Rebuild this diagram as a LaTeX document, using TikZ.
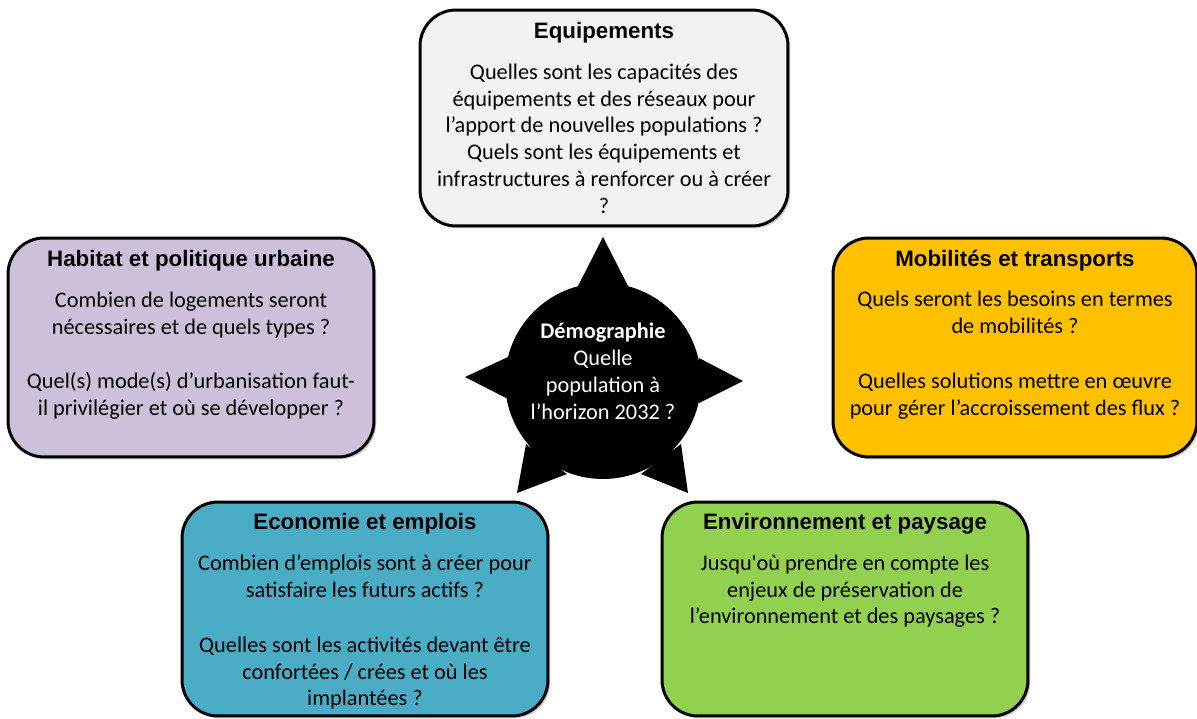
\documentclass[tikz,border=0pt]{standalone}
\usepackage{fontspec}
\setmainfont{Carlito}
\newfontfamily\headfont{Liberation Sans}
\usetikzlibrary{shadows}
\definecolor{eqfill}{HTML}{F2F2F2}
\definecolor{habfill}{HTML}{CCC0DA}
\definecolor{mobfill}{HTML}{FFC000}
\definecolor{ecofill}{HTML}{4BACC6}
\definecolor{envfill}{HTML}{92D050}
\newcommand{\cardhead}[1]{{\headfont\bfseries #1}}
\tikzset{
  card/.style={draw=black, line width=1.7pt, rounded corners=0.72cm,
    minimum height=4.34cm, inner sep=0pt,
    drop shadow={shadow xshift=1.3pt, shadow yshift=-1.3pt, opacity=0.4}},
  cardtext/.style={align=center, inner sep=0pt, text=black,
    font=\fontsize{12.7}{15.3}\selectfont},
  startext/.style={cardtext, text=white},
  spike/.style={fill=black}
}
\begin{document}
\begin{tikzpicture}[x=0.02cm, y=-0.02cm]
  \fill[white] (0,0) rectangle (1197,719);
  \useasboundingbox (0,0) rectangle (1197,719);

  % central badge: disc with five spikes
  \fill[spike] (603,381) circle [radius=1.96cm];
  \fill[spike] (578,286) -- (603,237) -- (628,286) -- cycle;
  \fill[spike] (699,358) -- (743,381) -- (699,403) -- cycle;
  \fill[spike] (681,444) -- (688,493) -- (641,474) -- cycle;
  \fill[spike] (567,474) -- (517,493) -- (526,444) -- cycle;
  \fill[spike] (508,399) -- (465,377) -- (508,357) -- cycle;
  \node[startext] (demo) at (603,371)
    {{\bfseries Démographie}\\Quelle\\population à\\l’horizon 2032 ?};

  % theme cards
  \node[card, fill=eqfill, minimum width=7.36cm, minimum height=4.32cm] (eqbox) at (604,118) {};
  \node[cardtext] (eqtxt) at (604,118)
    {\cardhead{Equipements}\\[7.9pt]
     Quelles sont les capacités des\\
     équipements et des réseaux pour\\
     l’apport de nouvelles populations ?\\
     Quels sont les équipements et\\
     infrastructures à renforcer ou à créer\\
     ?};

  \node[card, fill=habfill, minimum width=7.32cm, minimum height=4.38cm] (habbox) at (191,347.5) {};
  \node[cardtext] (habtxt) at (191,335)
    {\cardhead{Habitat et politique urbaine}\\[7.9pt]
     Combien de logements seront\\
     nécessaires et de quels types ?\\[15.9pt]
     Quel(s) mode(s) d’urbanisation faut-\\
     il privilégier et où se développer ?};

  \node[card, fill=mobfill, minimum width=7.28cm, minimum height=4.38cm] (mobbox) at (1015,347.5) {};
  \node[cardtext] (mobtxt) at (1015,334.5)
    {\cardhead{Mobilités et transports}\\[7.9pt]
     Quels seront les besoins en termes\\
     de mobilités ?\\[15.9pt]
     Quelles solutions mettre en œuvre\\
     pour gérer l’accroissement des flux ?};

  \node[card, fill=ecofill, minimum width=7.32cm, minimum height=4.28cm] (ecobox) at (365,609) {};
  \node[cardtext] (ecotxt) at (365,611.5)
    {\cardhead{Economie et emplois}\\[7.9pt]
     Combien d’emplois sont à créer pour\\
     satisfaire les futurs actifs ?\\[15.9pt]
     Quelles sont les activités devant être\\
     confortées / crées et où les\\
     implantées ?};

  \node[card, fill=envfill, minimum width=7.32cm, minimum height=4.28cm] (envbox) at (845,609) {};
  \node[cardtext] (envtxt) at (845,570.5)
    {\cardhead{Environnement et paysage}\\[7.9pt]
     Jusqu\textquotesingle où prendre en compte les\\
     enjeux de préservation de\\
     l’environnement et des paysages ?};
\end{tikzpicture}
\end{document}
